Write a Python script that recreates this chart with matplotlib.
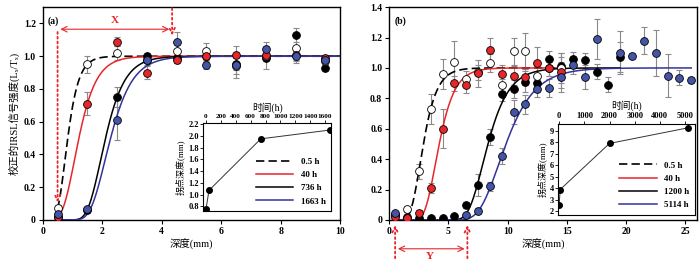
import numpy as np
import matplotlib
matplotlib.use('Agg')
import matplotlib.pyplot as plt
from matplotlib.ticker import FuncFormatter

plt.rcParams['font.family'] = ['Liberation Serif', 'Noto Sans CJK SC', 'DejaVu Sans']
plt.rcParams['font.weight'] = 'bold'
plt.rcParams['axes.linewidth'] = 1.0

# ---- panel (a) data ----
depth_a = [0.5, 1.5, 2.5, 3.5, 4.5, 5.5, 6.5, 7.5, 8.5, 9.5]
a_05 = [0.07, 0.95, 1.02, 0.98, 1.03, 1.03, 0.94, 1.00, 1.05, 0.97]
a_05_err = [0.02, 0.05, 0.04, 0.02, 0.04, 0.05, 0.05, 0.03, 0.09, 0.03]
a_40 = [0.02, 0.71, 1.09, 0.90, 0.98, 1.00, 1.01, 1.01, 1.01, 0.99]
a_40_err = [0.01, 0.07, 0.025, 0.04, 0.02, 0.02, 0.05, 0.03, 0.03, 0.02]
a_736 = [0.02, 0.06, 0.75, 1.00, 0.99, 1.00, 0.955, 0.99, 1.13, 0.93]
a_736_err = [0.01, 0.02, 0.06, 0.02, 0.03, 0.03, 0.04, 0.07, 0.045, 0.02]
a_1663 = [0.035, 0.065, 0.61, 0.975, 1.085, 0.945, 0.945, 1.045, 1.00, 0.98]
a_1663_err = [0.01, 0.01, 0.12, 0.03, 0.06, 0.02, 0.08, 0.04, 0.03, 0.02]

# inflection points (inset a) and fitted steepness
a_time = [0.5, 40, 736, 1663]
a_infl = [0.75, 1.07, 1.95, 2.10]
a_mu = [3.96, 2.49, 2.26, 2.0]

# ---- panel (b) data ----
b_05_depth = [0.5, 1.5, 2.5, 3.5, 4.5, 5.5, 6.5, 7.5, 8.5, 9.5, 10.5, 11.5, 12.5, 13.5, 14.5]
b_05 = [0.03, 0.07, 0.32, 0.73, 0.96, 1.04, 0.93, 0.97, 1.03, 0.89, 1.11, 1.11, 0.95, 1.00, 1.00]
b_05_err = [0.01, 0.02, 0.05, 0.10, 0.10, 0.14, 0.05, 0.05, 0.06, 0.04, 0.09, 0.12, 0.06, 0.05, 0.10]

b_40_depth = [0.5, 1.5, 2.5, 3.5, 4.5, 5.5, 6.5, 7.5, 8.5, 9.5, 10.5, 11.5, 12.5, 13.5, 14.5]
b_40 = [0.02, 0.01, 0.045, 0.21, 0.60, 0.90, 0.885, 0.965, 1.12, 0.96, 0.95, 0.94, 1.035, 1.00, 0.97]
b_40_err = [0.01, 0.01, 0.02, 0.03, 0.13, 0.05, 0.05, 0.09, 0.08, 0.06, 0.06, 0.05, 0.10, 0.05, 0.10]

b_1200_depth = [0.5, 1.5, 2.5, 3.5, 4.5, 5.5, 6.5, 7.5, 8.5, 9.5, 10.5, 11.5, 12.5,
                13.5, 14.5, 15.5, 16.5, 17.5, 18.5, 19.5]
b_1200 = [0.03, 0.02, 0.01, 0.01, 0.01, 0.025, 0.10, 0.23, 0.545, 0.83, 0.86, 0.91, 0.90,
          1.06, 1.01, 1.057, 1.05, 0.976, 0.89, 1.07]
b_1200_err = [0.01, 0.01, 0.01, 0.01, 0.01, 0.01, 0.02, 0.07, 0.05, 0.05, 0.06, 0.07, 0.06,
              0.05, 0.09, 0.05, 0.05, 0.05, 0.05, 0.10]

b_5114_depth = [0.5, 6.5, 7.5, 8.5, 9.5, 10.5, 11.5, 12.5, 13.5, 14.5, 15.5, 16.5, 17.5,
                19.5, 20.5, 21.5, 22.5, 23.5, 24.5, 25.5]
b_5114 = [0.045, 0.03, 0.06, 0.22, 0.42, 0.71, 0.76, 0.86, 0.87, 0.94, 1.02, 0.94, 1.19,
          1.10, 1.08, 1.18, 1.10, 0.95, 0.935, 0.92]
b_5114_err = [0.01, 0.01, 0.02, 0.03, 0.05, 0.08, 0.06, 0.05, 0.06, 0.10, 0.06, 0.08, 0.13,
              0.14, 0.02, 0.09, 0.15, 0.14, 0.05, 0.02]

b_time = [0.5, 40, 2000, 5114]
b_infl = [2.6, 3.9, 7.9, 9.25]
b_mu = [1.28, 1.12, 0.83, 0.6]

labels_a = ['0.5 h', '40 h', '736 h', '1663 h']
labels_b = ['0.5 h', '40 h', '1200 h', '5114 h']

RED = '#e8262a'
BLUE = '#4455a8'
BLUE_LINE = '#33339a'
GREY = '#8a8a8a'


def gompertz(x, x0, mu):
    # bleaching front model: L = exp(-exp(-mu (x - x0)))
    return np.exp(-np.exp(-mu * (x - x0)))


def zero_fmt(v, pos):
    return '0' if abs(v) < 1e-9 else '%.1f' % v


def draw_points(ax, x, y, err, face):
    ax.errorbar(x, y, yerr=err, fmt='none', ecolor=GREY, elinewidth=0.8,
                capsize=2.5, capthick=0.8, zorder=2)
    ax.plot(x, y, 'o', ms=5.6, mfc=face, mec='black', mew=0.6, zorder=4)


fig = plt.figure(figsize=(7.0, 2.64), dpi=100)

# =================== panel (a) ===================
ax = fig.add_axes([0.061, 0.167, 0.425, 0.806])
xa = np.linspace(0.5, 10, 400)
styles = [dict(color='black', ls=(0, (5, 2.5)), lw=1.2),
          dict(color=RED, lw=1.1),
          dict(color='black', lw=1.1),
          dict(color=BLUE_LINE, lw=1.1)]
for i in range(4):
    ax.plot(xa, gompertz(xa, a_infl[i], a_mu[i]), zorder=3, **styles[i])
draw_points(ax, depth_a, a_736, a_736_err, 'black')
draw_points(ax, depth_a, a_05, a_05_err, 'white')
draw_points(ax, depth_a, a_40, a_40_err, RED)
draw_points(ax, depth_a, a_1663, a_1663_err, BLUE)

ax.set_xlim(0, 10)
ax.set_ylim(0, 1.3)
ax.set_xticks([0, 2, 4, 6, 8, 10])
ax.set_yticks([0, 0.2, 0.4, 0.6, 0.8, 1.0, 1.2])
ax.yaxis.set_major_formatter(FuncFormatter(zero_fmt))
ax.tick_params(labelsize=7, length=3, width=0.8, pad=2)
ax.set_xlabel('深度(mm)', fontsize=7.5, labelpad=2)
ax.set_ylabel('校正的IRSL信号强度(Lₓ/Tₓ)', fontsize=7.5, labelpad=3)
ax.text(0.018, 0.955, '(a)', transform=ax.transAxes, fontsize=7, va='top')

# X annotation
ax.annotate('', xy=(0.5, 0.09), xytext=(0.5, 1.165),
            arrowprops=dict(arrowstyle='->', color=RED, lw=1.3, ls=':'))
ax.annotate('', xy=(4.35, 1.11), xytext=(4.35, 1.31),
            arrowprops=dict(arrowstyle='->', color=RED, lw=1.3, ls=':'),
            annotation_clip=False)
ax.annotate('', xy=(0.5, 1.165), xytext=(4.35, 1.165),
            arrowprops=dict(arrowstyle='<->', color=RED, lw=0.8))
ax.text(2.42, 1.19, 'X', color=RED, fontsize=8, ha='center', va='bottom')

# inset (a)
ins = fig.add_axes([0.290, 0.201, 0.183, 0.333])
ins.plot(a_time, a_infl, '-', color='#333333', lw=0.7)
ins.plot(a_time, a_infl, 'o', color='black', ms=4)
ins.set_xlim(-40, 1680)
ins.set_ylim(0.72, 2.22)
ins.set_xticks(range(0, 1601, 200))
ins.set_yticks([0.8, 1.0, 1.2, 1.4, 1.6, 1.8, 2.0, 2.2])
ins.xaxis.tick_top()
ins.xaxis.set_label_position('top')
ins.tick_params(labelsize=6, length=2, width=0.6, pad=1)
ins.tick_params(axis='x', labelsize=5.2)
ins.set_xlabel('时间(h)', fontsize=7, labelpad=2)
ins.set_ylabel('拐点深度(mm)', fontsize=6.5, labelpad=2)
for s in ins.spines.values():
    s.set_linewidth(0.8)
hs = [plt.Line2D([], [], **st) for st in styles]
ins.legend(hs, labels_a, loc='lower right', frameon=False, fontsize=6.5,
           handlelength=4.2, labelspacing=0.55, borderaxespad=0.2, handletextpad=0.8)

# =================== panel (b) ===================
bx = fig.add_axes([0.556, 0.167, 0.44, 0.806])
ranges = [14.5, 14.5, 19.5, 25.5]
for i in range(4):
    xb = np.linspace(0.5, ranges[i], 500)
    bx.plot(xb, gompertz(xb, b_infl[i], b_mu[i]), zorder=3, **styles[i])
draw_points(bx, b_1200_depth, b_1200, b_1200_err, 'black')
draw_points(bx, b_05_depth, b_05, b_05_err, 'white')
draw_points(bx, b_40_depth, b_40, b_40_err, RED)
draw_points(bx, b_5114_depth, b_5114, b_5114_err, BLUE)

bx.set_xlim(0, 26)
bx.set_ylim(0, 1.4)
bx.set_xticks([0, 5, 10, 15, 20, 25])
bx.set_yticks([0, 0.2, 0.4, 0.6, 0.8, 1.0, 1.2, 1.4])
bx.yaxis.set_major_formatter(FuncFormatter(zero_fmt))
bx.tick_params(labelsize=7, length=3, width=0.8, pad=2)
bx.set_xlabel('深度(mm)', fontsize=7.5, labelpad=2)
bx.text(0.018, 0.955, '(b)', transform=bx.transAxes, fontsize=7, va='top')

# Y annotation (below the axis)
for xv in (0.5, 6.6):
    bx.annotate('', xy=(xv, -0.015), xytext=(xv, -0.27),
                arrowprops=dict(arrowstyle='->', color=RED, lw=1.3, ls=':'),
                annotation_clip=False)
bx.annotate('', xy=(0.5, -0.19), xytext=(6.6, -0.19),
            arrowprops=dict(arrowstyle='<->', color=RED, lw=0.8),
            annotation_clip=False)
bx.text(3.4, -0.21, 'Y', color=RED, fontsize=8, ha='center', va='top', clip_on=False)

# inset (b)
inb = fig.add_axes([0.797, 0.186, 0.196, 0.345])
inb.plot(b_time, b_infl, '-', color='#333333', lw=0.7)
inb.plot(b_time, b_infl, 'o', color='black', ms=4)
inb.set_xlim(-50, 5400)
inb.set_ylim(1.7, 9.6)
inb.set_xticks(range(0, 5001, 1000))
inb.set_yticks(range(2, 10))
inb.xaxis.tick_top()
inb.xaxis.set_label_position('top')
inb.tick_params(labelsize=6, length=2, width=0.6, pad=1)
inb.set_xlabel('时间(h)', fontsize=7, labelpad=2)
inb.set_ylabel('拐点深度(mm)', fontsize=6.5, labelpad=2)
for s in inb.spines.values():
    s.set_linewidth(0.8)
inb.legend(hs, labels_b, loc='lower right', frameon=False, fontsize=6.5,
           handlelength=4.2, labelspacing=0.55, borderaxespad=0.2, handletextpad=0.8)

fig.savefig('out.png', dpi=100)
